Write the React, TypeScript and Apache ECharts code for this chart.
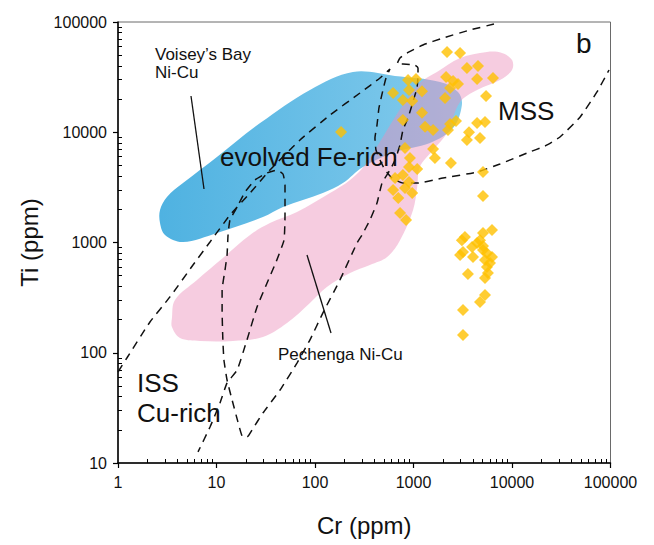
import React, { useEffect, useRef } from "react";
import * as echarts from "echarts";

const FONT = "'Liberation Sans', Arial, Helvetica, sans-serif";

// Axis ranges (ppm)
const crRange = [1, 100000];
const tiRange = [10, 100000];

// Voisey's Bay Ni-Cu magnetite field outline, [Cr, Ti] in ppm
const voiseyBayField: number[][] = [
  [2.67, 1970], [3.14, 2590], [4.57, 3460], [10.1, 5970], [27.7, 12100],
  [88.9, 24200], [243, 35200], [649, 32400], [1860, 28600], [2830, 23200],
  [3100, 17700], [2520, 10900], [1470, 8000], [649, 6620], [307, 4840],
  [192, 3460], [120, 2810], [47.3, 2100], [29.6, 1700], [10.1, 1220],
  [4.57, 1010], [3.0, 1170], [2.67, 1500],
];

// Pechenga Ni-Cu magnetite field outline, [Cr, Ti] in ppm
const pechengaField: number[][] = [
  [3.53, 207], [3.79, 301], [6.34, 457], [11.6, 723], [21.9, 1170],
  [34.9, 1500], [65.6, 1890], [142, 2810], [227, 3690], [322, 5050],
  [436, 7660], [577, 11600], [782, 17700], [1160, 28000], [1730, 35200],
  [2970, 47100], [5570, 53500], [7910, 52400], [10000, 45200], [10000, 36700],
  [7550, 29800], [4420, 24200], [2970, 18800], [2190, 9840], [1580, 6900],
  [1160, 4840], [1090, 3190], [990, 1970], [730, 1050], [540, 738],
  [361, 625], [227, 529], [132, 395], [88.9, 283], [52, 186],
  [29.6, 139], [14.7, 128], [6.8, 128], [4.26, 136], [3.53, 171],
];

// ISS upper boundary running into the MSS field boundary
const issMssBoundary: number[][] = [
  [1.0, 66.9], [1.23, 89.6], [2.11, 190], [3.37, 321], [5.77, 625],
  [8.59, 1011], [13.7, 1775], [21.9, 2812], [34.9, 4545], [70.4, 8511],
  [142, 14330], [286, 22700], [457, 31050], [577, 37480], [526, 31050],
  [490, 24200], [446, 16600], [426, 11600], [406, 8870], [416, 6900],
  [457, 5600], [514, 4545], [605, 3840], [782, 3460], [1086, 3460],
  [1992, 3840], [4415, 4360], [7550, 5150], [14190, 6480], [21630, 7500],
  [30700, 9060], [49000, 13700], [72900, 23200], [96600, 36700],
];

// MSS top, evolved Fe-rich and Cu-rich ISS boundaries
const feCuRichBoundary: number[][] = [
  [6560, 95900], [3748, 84600], [1992, 71600], [1248, 61900], [859, 52300],
  [729, 47100], [680, 41600], [782, 41600], [1035, 40700], [1111, 38300],
  [1111, 33100], [1086, 25200], [1035, 21800], [966, 17700], [879, 13500],
  [782, 10500], [729, 7660], [649, 5600], [577, 4545], [479, 3460],
  [426, 2280], [361, 1600], [300, 1170], [267, 990], [179, 457],
  [120, 229], [88.9, 131], [65.6, 80.7], [44.2, 45.9], [29.6, 28.4],
  [22.9, 19.9], [20.4, 17.2], [18.2, 17.6], [16.5, 23.6], [14.4, 37.3],
  [12.8, 56.6], [11.9, 85.9], [11.6, 131], [11.4, 244], [11.4, 370],
  [12.2, 563], [12.8, 770], [13.1, 1170], [13.7, 1600], [16.2, 2100],
  [19.5, 2870], [24.6, 3690], [32.6, 4270], [41.1, 4545], [47.3, 4180],
  [49.6, 3320], [49.6, 2430], [49.6, 1775], [48.4, 1050], [40.2, 665],
  [32.6, 429], [25.8, 260], [20.4, 131], [16.2, 69.8], [12.8, 53.2],
  [10.85, 35.0], [8.59, 21.2], [6.49, 12.6],
];

// Magnetite analyses, [Cr, Ti] in ppm
const magnetite: number[][] = [
  [2190, 53500], [2970, 52400], [3490, 38300], [4520, 39900], [4420, 30400],
  [6410, 31000], [5450, 21300], [2140, 31700], [2520, 29200], [2830, 27400],
  [2350, 25200], [2090, 20500], [880, 29800], [1060, 30400], [900, 24200],
  [1220, 23600], [620, 22700], [780, 19600], [970, 19200], [1220, 15000],
  [780, 12900], [1310, 11200], [1580, 10500], [2350, 11900], [2700, 12650],
  [2240, 10500], [4420, 12100], [5320, 12400], [3660, 10000], [4730, 8870],
  [3490, 8500], [820, 7200], [1580, 7050], [1650, 5830], [2400, 5260],
  [5080, 4360], [5080, 2640], [184, 10050],
  [920, 5830], [900, 4840], [1090, 4640], [780, 4090], [650, 3840],
  [900, 3540], [820, 3120], [620, 2990], [970, 2810], [700, 2530],
  [730, 1850], [840, 1600],
  [3330, 1120], [3100, 1050], [5080, 1220], [6270, 1300], [4730, 1050],
  [3930, 910], [5080, 855], [3180, 820], [2970, 770], [4020, 740],
  [5570, 800], [6270, 740], [5320, 694], [5570, 600], [5700, 530],
  [3570, 518], [5320, 476], [5320, 334], [4730, 289], [3180, 244],
  [3180, 145], [4420, 990], [5080, 930], [5980, 652],
];

// Minor tick positions (2..9 within each decade), in log10 units
const minorLogTicks = (fromExp: number, toExp: number) => {
  const out: number[] = [];
  for (let d = fromExp; d < toExp; d++) {
    for (let m = 2; m <= 9; m++) out.push(d + Math.log10(m));
  }
  return out;
};

const polygonSeries = (name: string, pts: number[][], fill: any, z: number) => ({
  type: "custom",
  name,
  coordinateSystem: "cartesian2d",
  xAxisIndex: 0,
  yAxisIndex: 0,
  data: pts,
  z,
  silent: true,
  clip: true,
  renderItem: (params: any, api: any) => {
    if (params.dataIndex !== 0) return null;
    return {
      type: "polygon",
      shape: { points: pts.map((p) => api.coord(p)), smooth: 0.35 },
      style: { fill },
    };
  },
});

const dashedSeries = (name: string, pts: number[][]) => ({
  type: "line",
  name,
  xAxisIndex: 0,
  yAxisIndex: 0,
  data: pts,
  symbol: "none",
  smooth: 0.15,
  z: 3,
  silent: true,
  lineStyle: { color: "#111", width: 1.5, type: [8, 6] },
});

const label = (text: string, x: number, y: number, size: number) => ({
  type: "text",
  x,
  y,
  z: 20,
  style: {
    text,
    font: `${size}px ${FONT}`,
    fill: "#111",
    align: "left",
    verticalAlign: "middle",
  },
});

export default function App() {
  const ref = useRef<HTMLDivElement>(null);

  useEffect(() => {
    if (!ref.current) return;
    const chart = echarts.init(ref.current, undefined, { renderer: "svg" });

    const logAxisCommon = {
      type: "log",
      logBase: 10,
      splitLine: { show: false },
      axisLine: { show: true, onZero: false, lineStyle: { color: "#000", width: 1.5 } },
      axisTick: { show: true, inside: false, length: 5, lineStyle: { color: "#000", width: 1.2 } },
      minorTick: { show: false },
      axisLabel: {
        fontSize: 16,
        fontFamily: FONT,
        color: "#111",
        margin: 11,
        formatter: (v: number) => String(Math.round(v)),
      },
      nameLocation: "middle",
      nameTextStyle: { fontSize: 24, fontFamily: FONT, color: "#111" },
    };

    const minorAxis = (min: number, max: number, position: string, ticks: number[]) => ({
      type: "value",
      min,
      max,
      position,
      offset: 0,
      axisLine: { show: false },
      axisLabel: { show: false },
      splitLine: { show: false },
      axisTick: {
        show: true,
        inside: true,
        length: 4,
        customValues: ticks,
        lineStyle: { color: "#000", width: 1 },
      },
    });

    chart.setOption({
      animation: false,
      backgroundColor: "#fff",
      grid: {
        left: 118,
        top: 22,
        width: 492.5,
        height: 441,
        show: true,
        borderColor: "#6a6a6a",
        borderWidth: 1,
        backgroundColor: "transparent",
      },
      xAxis: [
        {
          ...logAxisCommon,
          min: crRange[0],
          max: crRange[1],
          position: "bottom",
          name: "Cr (ppm)",
          nameGap: 50,
        },
        minorAxis(0, 5, "bottom", minorLogTicks(0, 5)),
      ],
      yAxis: [
        {
          ...logAxisCommon,
          min: tiRange[0],
          max: tiRange[1],
          position: "left",
          name: "Ti (ppm)",
          nameGap: 77,
        },
        minorAxis(1, 5, "left", minorLogTicks(1, 5)),
      ],
      series: [
        polygonSeries(
          "Voisey's Bay Ni-Cu",
          voiseyBayField,
          new echarts.graphic.LinearGradient(0, 0, 1, 0, [
            { offset: 0, color: "#4fb2e1" },
            { offset: 1, color: "#84cbec" },
          ]),
          1
        ),
        polygonSeries("Pechenga Ni-Cu", pechengaField, "rgba(235,142,187,0.45)", 2),
        dashedSeries("ISS / MSS", issMssBoundary),
        dashedSeries("evolved Fe-rich / Cu-rich", feCuRichBoundary),
        {
          type: "scatter",
          name: "magnetite",
          xAxisIndex: 0,
          yAxisIndex: 0,
          data: magnetite,
          symbol: "diamond",
          symbolSize: 12,
          z: 5,
          itemStyle: { color: "#ffc000" },
        },
      ],
      graphic: [
        label("Voisey\u2019s Bay", 155, 54, 17),
        label("Ni-Cu", 155, 72, 17),
        label("evolved Fe-rich", 220, 157, 26),
        label("MSS", 498, 111, 26),
        label("b", 576, 43, 28),
        label("ISS", 137, 383, 26),
        label("Cu-rich", 137, 413, 26),
        label("Pechenga Ni-Cu", 278, 354, 17),
        {
          type: "line",
          z: 20,
          shape: { x1: 191, y1: 96, x2: 204, y2: 189 },
          style: { stroke: "#111", lineWidth: 1.3 },
        },
        {
          type: "line",
          z: 20,
          shape: { x1: 307, y1: 255, x2: 331, y2: 333 },
          style: { stroke: "#111", lineWidth: 1.3 },
        },
      ],
    });

    return () => chart.dispose();
  }, []);

  return (
    <div
      ref={ref}
      style={{ position: "fixed", left: 0, top: 0, width: 654, height: 545, background: "#fff" }}
    />
  );
}
